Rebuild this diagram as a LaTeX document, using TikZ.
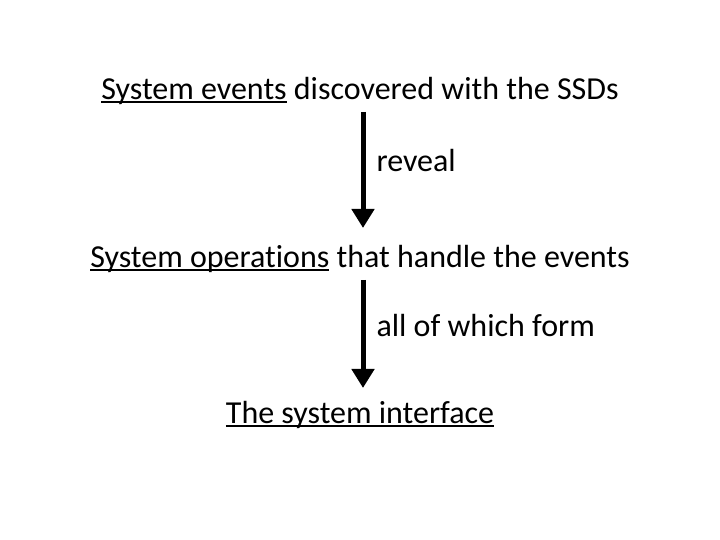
\documentclass[tikz,border=0pt]{standalone}
\usepackage{fontspec}
\setmainfont[Ligatures=NoCommon]{Carlito}
\usepackage{tikz}
\usetikzlibrary{arrows.meta, positioning}

\newlength{\ulwd}
\newcommand{\ulword}[1]{\settowidth{\ulwd}{#1}\rlap{\rule[-2.8pt]{\ulwd}{1.8pt}}#1}

\begin{document}
\begin{tikzpicture}[x=1pt, y=1pt,
        txt/.style={inner sep=0pt, anchor=base, font=\fontsize{32}{38}\selectfont},
        flow/.style={line width=5pt, -{Triangle[width=22pt, length=19pt]}}]
        \useasboundingbox (0,0) rectangle (720,540);

        % Statements
        \node[txt] (events) at (360,440) {\ulword{System events} discovered with the SSDs};
        \node[txt] (operations) at (360,272) {\ulword{System operations} that handle the events};
        \node[txt] (iface) at (360,116) {\ulword{The system interface}};

        % Arrows
        \draw[flow] ([shift={(3,-12)}]events.base) -- ([shift={(3,40)}]operations.base)
            node[txt, pos=.42, anchor=west, xshift=11pt] {reveal};
        \draw[flow] ([shift={(3,-12)}]operations.base) -- ([shift={(3,36)}]iface.base)
            node[txt, pos=.42, anchor=west, xshift=11pt] {all of which form};
    \end{tikzpicture}
\end{document}
